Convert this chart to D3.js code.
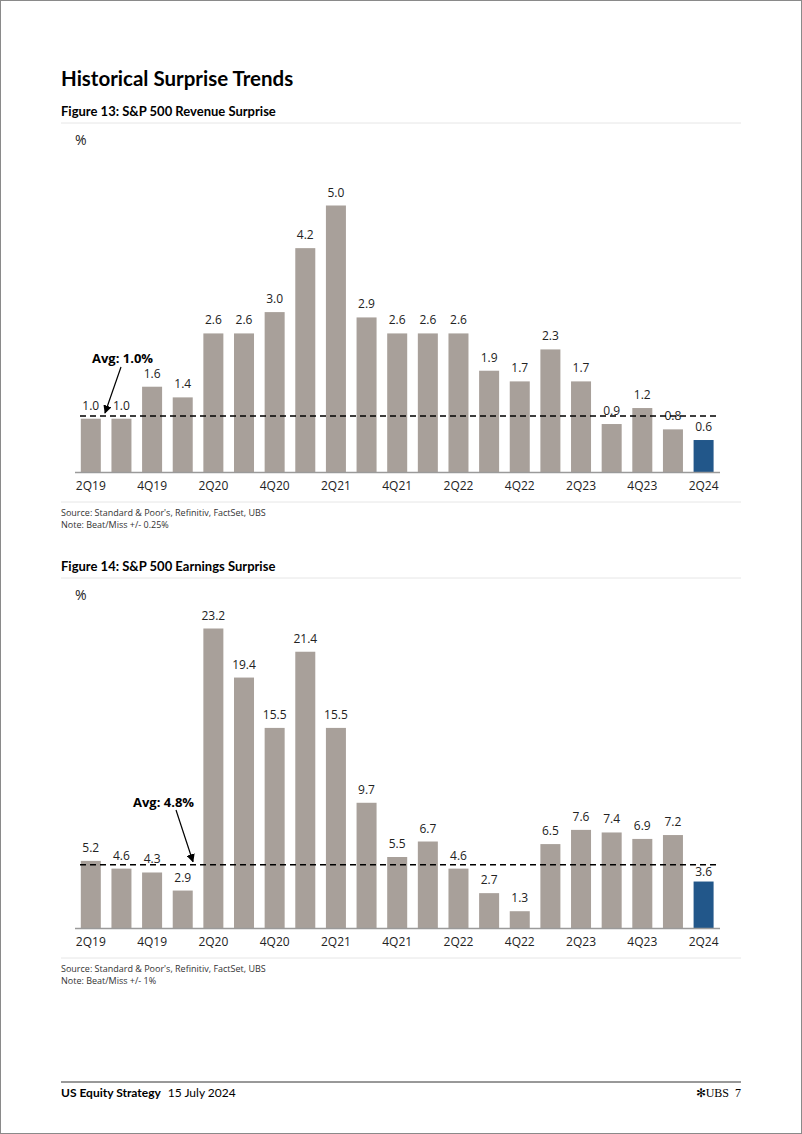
<!DOCTYPE html>
<html><head><meta charset="utf-8">
<script src="https://cdn.jsdelivr.net/npm/d3@7/dist/d3.min.js"></script>
<style>
html,body{margin:0;padding:0;background:#fff;}
svg{display:block;font-family:"Open Sans","Noto Sans",sans-serif;}
.hd{font-family:Lato,"Open Sans",sans-serif;}
</style></head>
<body>
<svg id="page" width="802" height="1134"></svg>
<script>
// ---- data ----
const quarters = ["2Q19","3Q19","4Q19","1Q20","2Q20","3Q20","4Q20","1Q21","2Q21","3Q21","4Q21","1Q22","2Q22","3Q22","4Q22","1Q23","2Q23","3Q23","4Q23","1Q24","2Q24"];
const tickLabels = ["2Q19","4Q19","2Q20","4Q20","2Q21","4Q21","2Q22","4Q22","2Q23","4Q23","2Q24"];
const revenueSurprise = [1.0,1.0,1.6,1.4,2.6,2.6,3.0,4.2,5.0,2.9,2.6,2.6,2.6,1.9,1.7,2.3,1.7,0.9,1.2,0.8,0.6];
const earningsSurprise = [5.2,4.6,4.3,2.9,23.2,19.4,15.5,21.4,15.5,9.7,5.5,6.7,4.6,2.7,1.3,6.5,7.6,7.4,6.9,7.2,3.6];
const revenueAvg = 1.05, revenueAvgLabel = "Avg: 1.0%";
const earningsAvg = 4.9, earningsAvgLabel = "Avg: 4.8%";

const svg = d3.select("#page");
const GREY = "#a8a09a", BLUE = "#22578a", TXT = "#222";

// page border
svg.append("rect").attr("x",0.5).attr("y",0.5).attr("width",801).attr("height",1133)
  .attr("fill","none").attr("stroke","#8a8a8a").attr("stroke-width",1);

svg.append("defs").append("marker").attr("id","arrow").attr("viewBox","0 0 10 10")
  .attr("refX",9).attr("refY",5).attr("markerWidth",7).attr("markerHeight",7)
  .attr("orient","auto").append("path").attr("d","M0,0L10,5L0,10z").attr("fill","#000");

svg.append("text").attr("class","hd").attr("x",61).attr("y",86).attr("font-size",20.5).attr("font-weight",700)
  .attr("fill","#000").text("Historical Surprise Trends");

function chart(opt){
  const g = svg.append("g");
  g.append("text").attr("class","hd").attr("x",61).attr("y",opt.titleY).attr("font-size",13).attr("font-weight",700)
    .attr("fill","#000").text(opt.title);
  g.append("line").attr("x1",61).attr("x2",741).attr("y1",opt.titleY+7).attr("y2",opt.titleY+7)
    .attr("stroke","#e6e6e6");
  g.append("text").attr("x",75).attr("y",opt.titleY+29).attr("font-size",14).attr("fill",TXT).text("%");

  const x = d3.scaleBand().domain(quarters).range([75.6,718.8]).paddingInner(0.347).paddingOuter(0.17);
  const y = d3.scaleLinear().domain(opt.domain).range([opt.base, opt.top]);

  g.selectAll("rect.bar").data(opt.values).join("rect").attr("class","bar")
    .attr("x",(d,i)=>x(quarters[i])).attr("width",x.bandwidth())
    .attr("y",d=>y(d)).attr("height",d=>y(0)-y(d))
    .attr("fill",(d,i)=>i===quarters.length-1?BLUE:GREY);

  g.selectAll("text.val").data(opt.values).join("text").attr("class","val")
    .attr("x",(d,i)=>x(quarters[i])+x.bandwidth()/2)
    .attr("y",(d,i)=>y(d)-(i===quarters.length-1?opt.lastGap:9))
    .attr("text-anchor","middle").attr("font-size",12).attr("fill",TXT)
    .text(d=>d3.format(".1f")(d));

  // axis
  const ax = g.append("g").attr("transform",`translate(0,${opt.base})`)
    .call(d3.axisBottom(x).tickValues(tickLabels).tickSize(0).tickPadding(9));
  ax.select(".domain").attr("stroke","#9a9a9a").attr("stroke-width",1.5).attr("d","M75,0.5H720");
  ax.selectAll("text").attr("font-size",12).attr("fill",TXT).attr("font-family","'Open Sans','Noto Sans',sans-serif");

  // avg line
  g.append("line").attr("x1",80).attr("x2",716).attr("y1",y(opt.avg)).attr("y2",y(opt.avg))
    .attr("stroke","#000").attr("stroke-width",1.6).attr("stroke-dasharray","6,4");
  g.append("text").attr("x",opt.avgLabelX).attr("y",opt.avgLabelY).attr("font-size",13)
    .attr("font-weight",700).attr("fill","#000").text(opt.avgLabel);
  g.append("line").attr("x1",opt.arrow[0]).attr("y1",opt.arrow[1]).attr("x2",opt.arrow[2]).attr("y2",y(opt.avg)-3)
    .attr("stroke","#000").attr("stroke-width",1.2).attr("marker-end","url(#arrow)");

  g.append("line").attr("x1",61).attr("x2",741).attr("y1",opt.srcY-11).attr("y2",opt.srcY-11).attr("stroke","#e6e6e6");
  g.append("text").attr("x",61).attr("y",opt.srcY+3).attr("font-size",9).attr("fill","#333").text("Source: Standard & Poor's, Refinitiv, FactSet, UBS");
  g.append("text").attr("x",61).attr("y",opt.srcY+15).attr("font-size",9).attr("fill","#333").text(opt.note);
}

chart({title:"Figure 13: S&P 500 Revenue Surprise", titleY:116, values:revenueSurprise,
  domain:[0,5], base:472, top:205.5, avg:revenueAvg, avgLabel:revenueAvgLabel, lastGap:9,
  avgLabelX:92, avgLabelY:363, arrow:[121,367,105], srcY:513, note:"Note: Beat/Miss +/- 0.25%"});
chart({title:"Figure 14: S&P 500 Earnings Surprise", titleY:571, values:earningsSurprise,
  domain:[0,23.2], base:928, top:628.5, avg:earningsAvg, avgLabel:earningsAvgLabel, lastGap:6,
  avgLabelX:133, avgLabelY:807, arrow:[176,810,193], srcY:969, note:"Note: Beat/Miss +/- 1%"});

// footer
svg.append("line").attr("x1",61).attr("x2",741).attr("y1",1082).attr("y2",1082).attr("stroke","#333").attr("stroke-width",1);
const ft = svg.append("text").attr("class","hd").attr("x",61).attr("y",1097).attr("font-size",12).attr("fill","#000");
ft.append("tspan").attr("font-weight",700).text("US Equity Strategy");
ft.append("tspan").attr("dx",7).text("15 July 2024");
svg.append("text").attr("x",741).attr("y",1097).attr("text-anchor","end").attr("font-size",12)
  .attr("font-family","'Liberation Serif','DejaVu Serif',serif").attr("fill","#000").text("✻UBS  7")
  .attr("xml:space","preserve");
</script>
</body></html>
